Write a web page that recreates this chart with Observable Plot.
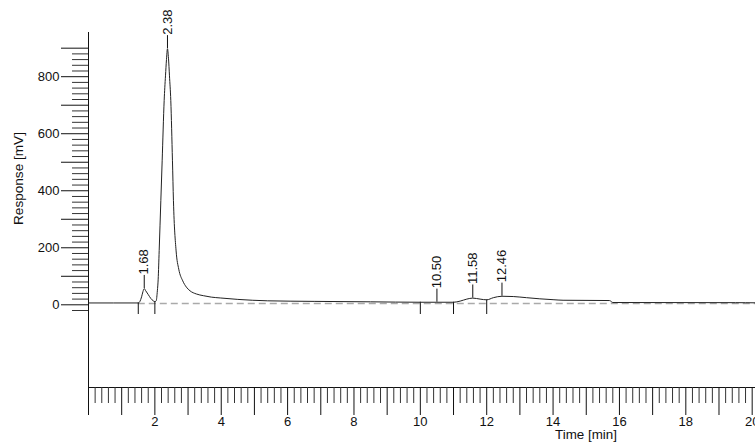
<!DOCTYPE html>
<html><head><meta charset="utf-8">
<script src="https://cdn.jsdelivr.net/npm/d3@7"></script>
<script src="https://cdn.jsdelivr.net/npm/@observablehq/plot@0.6"></script>
<style>body{margin:0;background:#fff}#chart svg{display:block}</style>
</head><body><div id="chart"></div>
<script>
// Chromatogram trace (time in min, response in mV)
const traceTime = [0, 1.5, 1.55, 1.6, 1.64, 1.68, 1.72, 1.8, 1.88, 1.95, 2.0, 2.04, 2.075, 2.1, 2.13, 2.18, 2.22, 2.28, 2.32, 2.35, 2.38, 2.41, 2.44, 2.48, 2.53, 2.56, 2.64, 2.72, 2.84, 2.95, 3.06, 3.25, 3.46, 3.7, 3.97, 4.5, 5.4, 6.8, 8.5, 10.0, 10.5, 11.0, 11.2, 11.4, 11.58, 11.8, 12.0, 12.2, 12.46, 12.8, 13.2, 13.6, 14.0, 14.3, 15.7, 15.8, 19.5, 20.1];
const traceResponse = [6.5, 6.5, 12, 28, 46, 57, 50, 36, 22, 14, 11, 14, 49, 90, 190, 365, 505, 716, 803, 860, 898, 865, 803, 716, 505, 365, 189, 125, 84, 62, 49, 38, 32, 27, 24, 19, 14, 12, 10.5, 9, 9, 9, 13, 20, 23.5, 20, 17.5, 25, 30, 29, 25, 21, 18, 16, 15, 8, 7.5, 7];

// Labelled peaks
const peakTimes = [1.68, 2.38, 10.50, 11.58, 12.46];
const peakResponse = [57, 898, 9, 23.5, 30];
const peakLabels = ["1.68", "2.38", "10.50", "11.58", "12.46"];

// Integration markers (start/end of peaks)
const markerTimes = [1.5, 2.0, 10.0, 11.0, 12.0];
const markerResponse = [6.5, 11, 9, 9, 17.5];

// Baseline
const baselineStart = [1.5];
const baselineEnd = [20.1];
const baselineLevel = [5];

// Ticks
const xMajorTicks = d3.range(0, 21, 1);
const xMinorTicks = d3.range(0, 101, 1).map(i => i / 5).filter(d => d % 1 !== 0);
const xLabelTicks = [2, 4, 6, 8, 10, 12, 14, 16, 18, 20];
const yMajorTicks = [0, 100, 200, 300, 400, 500, 600, 700, 800, 900];
const yMinorTicks = d3.range(-20, 900, 20).filter(d => d % 100 !== 0);
const yLabelTicks = [0, 200, 400, 600, 800];

const trace = traceTime.map((t, i) => ({t, v: traceResponse[i]}));
const peaks = peakTimes.map((t, i) => ({t, v: peakResponse[i], label: peakLabels[i]}));
const markers = markerTimes.map((t, i) => ({t, v: markerResponse[i]}));
const baseline = baselineStart.map((s, i) => ({x1: s, x2: baselineEnd[i], y: baselineLevel[i]}));

const LABEL_LINE = 46; // in mV units (~13px)

const chart = Plot.plot({
  width: 755,
  height: 445,
  marginLeft: 88,
  marginRight: 0,
  marginTop: 32,
  marginBottom: 58,
  style: {fontFamily: "'Liberation Sans', Arial, sans-serif", fontSize: "13px", color: "#111", background: "#fff"},
  x: {domain: [0, 20.1], label: null},
  y: {domain: [-290, 955], label: null},
  marks: [
    // axes lines
    Plot.ruleX([0], {y1: -290, y2: 955, stroke: "#111"}),
    Plot.ruleY([-290], {stroke: "#111"}),
    // y axis ticks
    Plot.axisY({ticks: yMajorTicks, anchor: "left", tickSize: 27, tickPadding: 2,
      tickFormat: d => yLabelTicks.includes(d) ? String(d) : "", label: null}),
    Plot.axisY({ticks: yMinorTicks, anchor: "left", tickSize: 16, tickFormat: () => "", label: null, stroke: "#333"}),
    // x axis ticks
    Plot.axisX({ticks: xMajorTicks, anchor: "bottom", tickSize: 28, tickPadding: 1,
      tickFormat: d => xLabelTicks.includes(d) ? String(d) : "", label: null}),
    Plot.axisX({ticks: xMinorTicks, anchor: "bottom", tickSize: 16, tickFormat: () => "", label: null, stroke: "#333"}),
    // axis titles
    Plot.text(["Response [mV]"], {frameAnchor: "left", rotate: -90, dx: -70, dy: 15, fill: "#111", fontSize: 13.6}),
    Plot.text(["Time [min]"], {frameAnchor: "bottom", dx: 164, dy: 51, fill: "#111", fontSize: 13.4}),
    // baseline (dashed)
    Plot.ruleY(baseline, {x1: "x1", x2: "x2", y: "y", stroke: "#aaa", strokeWidth: 1.5, strokeDasharray: "7,4"}),
    // integration markers
    Plot.ruleX(markers, {x: "t", y1: "v", y2: -34, stroke: "#111"}),
    // trace
    Plot.line(trace, {x: "t", y: "v", stroke: "#222", strokeWidth: 1, curve: "monotone-x"}),
    // peak labels
    Plot.ruleX(peaks, {x: "t", y1: "v", y2: d => d.v + LABEL_LINE, stroke: "#111"}),
    Plot.text(peaks, {x: "t", y: "v", text: "label", rotate: -90, textAnchor: "start", dy: -14, fill: "#111"})
  ]
});
document.getElementById("chart").appendChild(chart);
</script>
</body></html>
